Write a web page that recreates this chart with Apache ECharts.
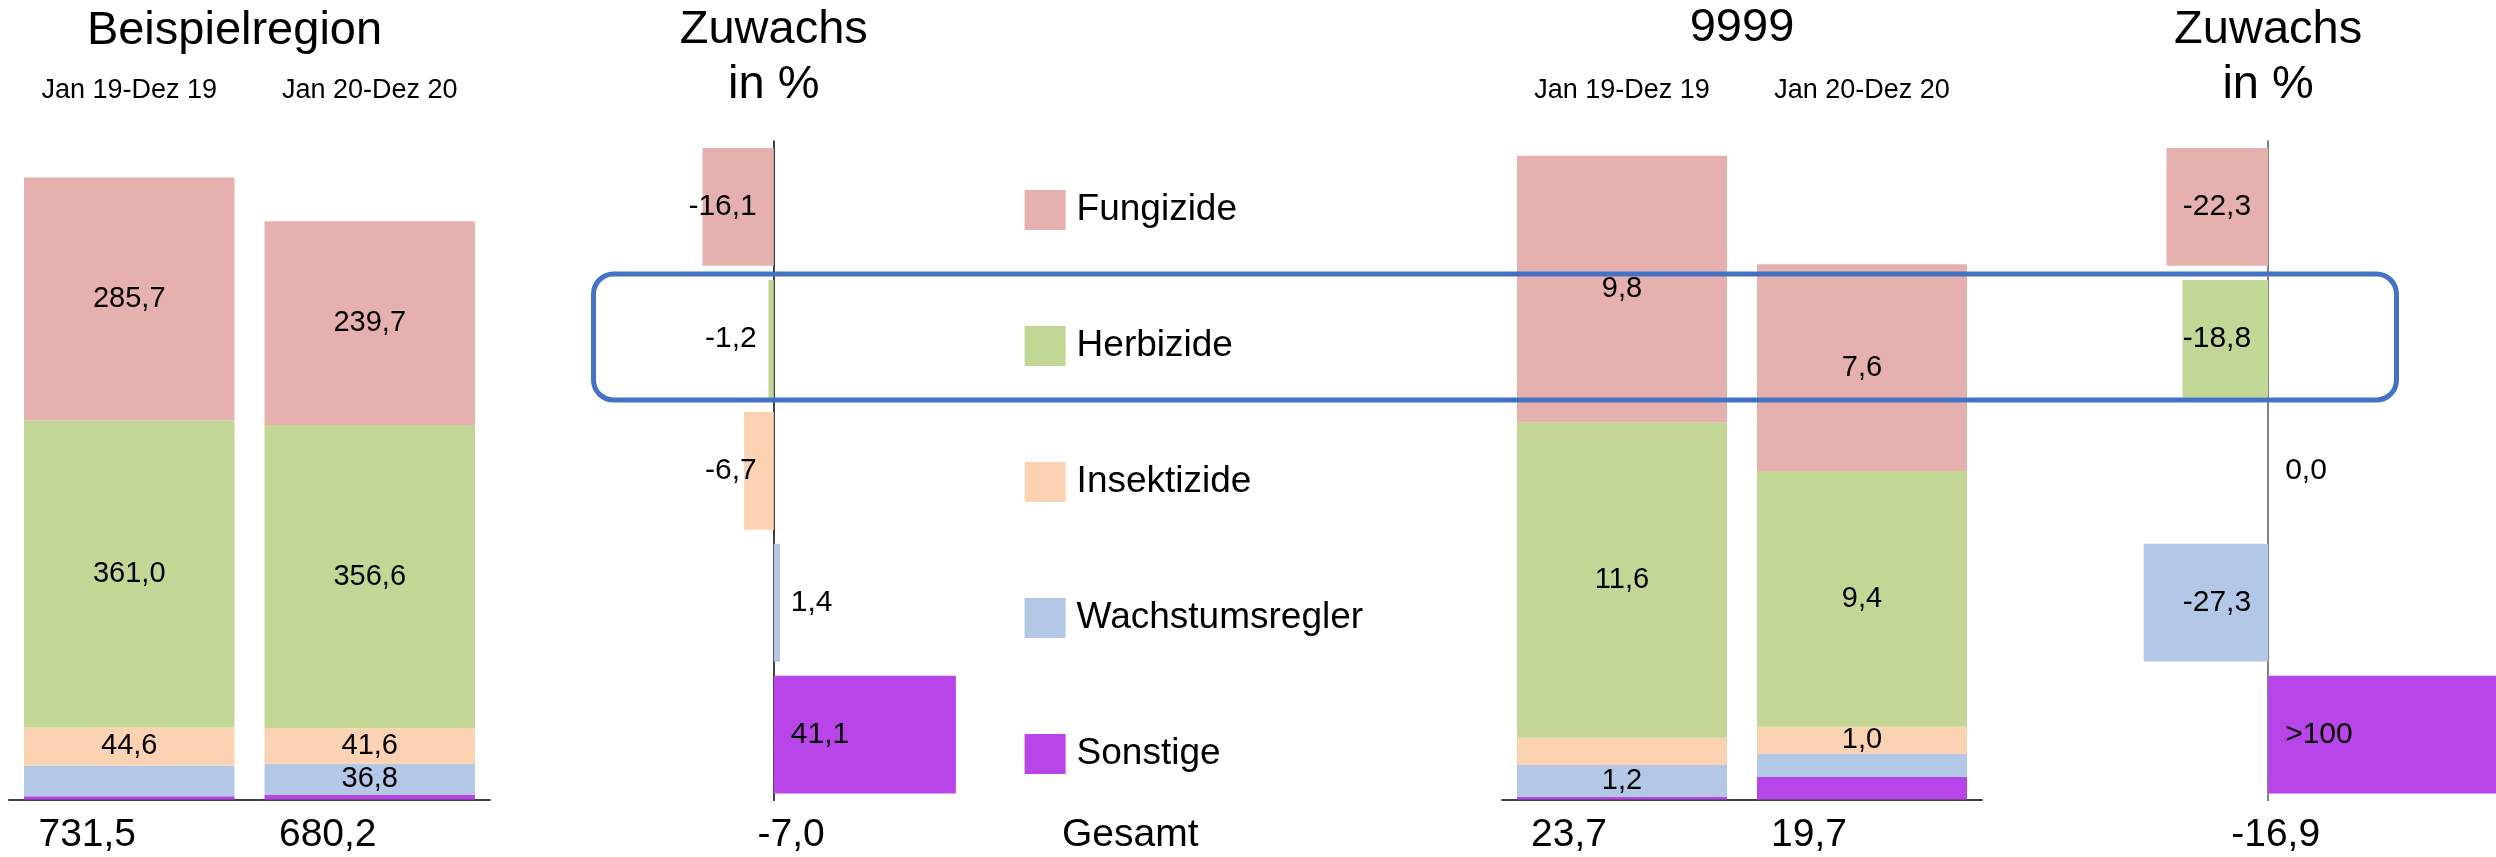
<!DOCTYPE html>
<html lang="de">
<head>
<meta charset="utf-8">
<title>Beispielregion / 9999</title>
<script src="https://cdn.jsdelivr.net/npm/echarts@6/dist/echarts.min.js"></script>
<style>
  html, body { margin: 0; padding: 0; background: #fff; }
  #chart { width: 2496px; height: 857px; }
</style>
</head>
<body>
<div id="chart"></div>
<script>
// Kategorien und Zeiträume
const categories = ['Fungizide', 'Herbizide', 'Insektizide', 'Wachstumsregler', 'Sonstige'];
const periods = ['Jan 19-Dez 19', 'Jan 20-Dez 20'];

// Beispielregion (Reihenfolge wie categories)
const regionPrev = [285.7, 361.0, 44.6, 36.3, 3.9];
const regionCurr = [239.7, 356.6, 41.6, 36.8, 5.5];
const regionTotals = [731.5, 680.2];
const regionGrowth = [-16.1, -1.2, -6.7, 1.4, 41.1];
const regionGrowthTotal = -7.0;

// 9999
const localPrev = [9.8, 11.6, 1.0, 1.17, 0.1];
const localCurr = [7.6, 9.4, 1.0, 0.85, 0.83];
const localTotals = [23.7, 19.7];
const localGrowth = [-22.3, -18.8, 0.0, -27.3, 730];
const localGrowthTotal = -16.9;

// welche Segment-Beschriftungen sichtbar sind (1 = ja)
const regionPrevShown = [1, 1, 1, 0, 0];
const regionCurrShown = [1, 1, 1, 1, 0];
const localPrevShown = [1, 1, 0, 1, 0];
const localCurrShown = [1, 1, 1, 0, 0];

const colors = ['#E5B0AE', '#C2D795', '#FBD3B3', '#B3C7E6', '#B845E8'];
const FONT = '"Liberation Sans", Arial, sans-serif';

function fmt(v) {
	return v.toFixed(1).replace('.', ',');
}
function fmtGrowth(v) {
	return v > 100 ? '>100' : fmt(v);
}

// gestapelte Säulen, Sonstige unten, Fungizide oben
function stackSeries(prev, curr, shownPrev, shownCurr, xIdx, yIdx, stack) {
	let list = categories.map((name, i) => ({
		name: name,
		type: 'bar',
		stack: stack,
		xAxisIndex: xIdx,
		yAxisIndex: yIdx,
		barCategoryGap: '12.5%',
		itemStyle: { color: colors[i] },
		label: {
			show: true,
			position: 'inside',
			color: '#000',
			fontSize: 29,
			fontFamily: FONT,
			formatter: (p) => fmt(p.value),
		},
		data: [
			{ value: prev[i], label: { show: !!shownPrev[i] } },
			{ value: curr[i], label: { show: !!shownCurr[i] } },
		],
	}));
	return list.reverse();
}

// Zuwachs-Balken
function growthSeries(values, xIdx, yIdx) {
	return {
		name: 'Zuwachs',
		type: 'bar',
		xAxisIndex: xIdx,
		yAxisIndex: yIdx,
		barCategoryGap: '10.7%',
		clip: true,
		data: values.map((v, i) => ({
			value: v,
			itemStyle: { color: colors[i] },
			label: {
				show: true,
				position: v < 0 ? 'insideRight' : 'insideLeft',
				distance: 17,
				color: '#000',
				fontSize: 30,
				fontFamily: FONT,
				formatter: (p) => fmtGrowth(p.value),
			},
		})),
	};
}

function stackXAxes(grid, totals, pad) {
	return [
		{
			type: 'category',
			gridIndex: grid,
			position: 'bottom',
			data: totals.map(fmt),
			axisLine: { show: true, lineStyle: { color: '#404040', width: 2 } },
			axisTick: { show: false },
			axisLabel: { color: '#000', fontSize: 39, fontFamily: FONT, margin: 16, padding: [0, pad, 0, 0] },
		},
		{
			type: 'category',
			gridIndex: grid,
			position: 'top',
			data: periods,
			axisLine: { show: false },
			axisTick: { show: false },
			axisLabel: { color: '#000', fontSize: 27, fontFamily: FONT, margin: 6 },
		},
	];
}

function growthYAxis(grid, color) {
	return {
		type: 'category',
		gridIndex: grid,
		inverse: true,
		data: categories,
		axisLine: { show: true, onZero: true, lineStyle: { color: color, width: 1.5 } },
		axisTick: { show: false },
		axisLabel: { show: false },
	};
}

function titleText(text, x, y) {
	return {
		type: 'text',
		z: 50,
		style: {
			text: text,
			x: x,
			y: y,
			textAlign: 'center',
			textVerticalAlign: 'middle',
			fontSize: 47,
			lineHeight: 55,
			fontFamily: FONT,
			fill: '#000',
		},
	};
}

let myChart = echarts.init(document.getElementById('chart'), null, { renderer: 'canvas' });

let option = {
	backgroundColor: '#fff',
	animation: false,
	grid: [
		{ left: 9, top: 110, width: 481, height: 689.6 },
		{ left: 685.2, top: 141, width: 310.1, height: 659.6 },
		{ left: 1502, top: 110, width: 480, height: 689.6 },
		{ left: 2131.4, top: 141, width: 369.6, height: 659.6 },
	],
	xAxis: [
		...stackXAxes(0, regionTotals, 84),
		{ type: 'value', gridIndex: 1, min: -20, max: 50, show: false },
		...stackXAxes(2, localTotals, 106),
		{ type: 'value', gridIndex: 3, min: -30, max: 50, show: false },
	],
	yAxis: [
		{ type: 'value', gridIndex: 0, min: 0, max: 811, show: false },
		growthYAxis(1, '#000'),
		{ type: 'value', gridIndex: 2, min: 0, max: 25.35, show: false },
		growthYAxis(3, '#595959'),
	],
	legend: {
		data: categories,
		orient: 'vertical',
		left: 1024.6,
		top: 190,
		padding: 0,
		icon: 'rect',
		itemWidth: 41,
		itemHeight: 40,
		itemGap: 96,
		textStyle: { color: '#000', fontSize: 37, fontFamily: FONT, padding: [0, 0, 0, 6] },
	},
	series: [
		...stackSeries(regionPrev, regionCurr, regionPrevShown, regionCurrShown, 0, 0, 'region'),
		growthSeries(regionGrowth, 2, 1),
		...stackSeries(localPrev, localCurr, localPrevShown, localCurrShown, 3, 2, 'local'),
		growthSeries(localGrowth, 5, 3),
	],
};

myChart.setOption(option);

// Texte über den Spalten, Summen der Zuwachs-Spalten und Markierung
const zero1 = myChart.convertToPixel({ xAxisIndex: 2 }, 0);
const zero2 = myChart.convertToPixel({ xAxisIndex: 5 }, 0);

function totalText(text, x, align) {
	return {
		type: 'text',
		z: 50,
		style: {
			text: text,
			x: x,
			y: 835,
			textAlign: align,
			textVerticalAlign: 'middle',
			fontSize: 39,
			fontFamily: FONT,
			fill: '#000',
		},
	};
}

myChart.setOption({
	graphic: [
		titleText('Beispielregion', 234.5, 31),
		titleText('Zuwachs\nin %', zero1, 58),
		titleText('9999', 1742, 28),
		titleText('Zuwachs\nin %', zero2, 58),
		totalText(fmt(regionGrowthTotal), zero1 + 51, 'right'),
		totalText('Gesamt', 1062, 'left'),
		totalText(fmt(localGrowthTotal), zero2 + 52, 'right'),
		{
			type: 'rect',
			z: 100,
			shape: { x: 593.5, y: 274, width: 1803, height: 126, r: 20 },
			style: { fill: 'none', stroke: '#4472C4', lineWidth: 5 },
		},
	],
});
</script>
</body>
</html>
